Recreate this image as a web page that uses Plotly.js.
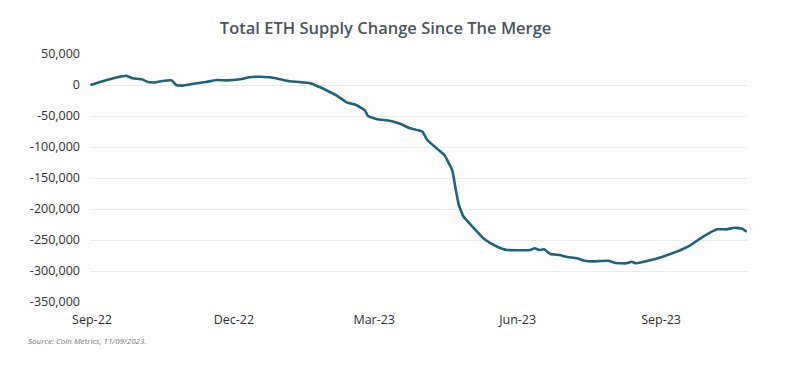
<!DOCTYPE html>
<html>
<head>
<meta charset="utf-8">
<script src="https://cdn.plot.ly/plotly-3.0.1.min.js"></script>
<style>
html,body{margin:0;padding:0;background:#fff;}
#chart{width:800px;height:371px;}
</style>
</head>
<body>
<div id="chart"></div>
<script>
// Dates of readings
var dates = [
  "2022-09-14","2022-09-27","2022-10-07","2022-10-11","2022-10-17","2022-10-21","2022-10-26","2022-10-30",
  "2022-11-05","2022-11-08","2022-11-12","2022-11-18","2022-11-27","2022-12-04","2022-12-10","2022-12-19",
  "2022-12-25","2022-12-31","2023-01-07","2023-01-13","2023-01-20","2023-01-26","2023-02-02","2023-02-06",
  "2023-02-12","2023-02-19","2023-02-25","2023-03-04","2023-03-09","2023-03-11","2023-03-17","2023-03-25",
  "2023-04-01","2023-04-07","2023-04-15","2023-04-18","2023-04-24","2023-04-29","2023-05-04","2023-05-06",
  "2023-05-08","2023-05-11","2023-05-18","2023-05-24","2023-05-28","2023-06-02","2023-06-08","2023-06-23",
  "2023-06-26","2023-06-29","2023-07-02","2023-07-06","2023-07-12","2023-07-16","2023-07-23","2023-07-28",
  "2023-08-02","2023-08-12","2023-08-17","2023-08-24","2023-08-27","2023-08-30","2023-09-08","2023-09-16",
  "2023-09-25","2023-10-04","2023-10-12","2023-10-21","2023-10-27","2023-11-01","2023-11-06","2023-11-09"
];
// Total ETH supply change since the Merge (ETH)
var supplyChange = [
  0, 9700, 15000, 10800, 9200, 4800, 4300, 6400,
  7500, 0, -1000, 1600, 4800, 8000, 7500, 9200,
  12400, 13400, 12400, 9700, 6000, 4800, 2700, -1100,
  -8000, -17000, -27500, -33000, -41000, -50000, -55300, -57500,
  -62900, -69900, -75300, -88700, -102000, -112900, -137000, -164000,
  -190800, -211300, -231100, -247300, -254300, -260800, -266100, -266100,
  -263400, -266100, -265000, -272600, -274200, -276900, -279500, -283400,
  -284400, -283400, -287100, -287600, -285000, -287600, -282800, -276900,
  -268800, -258100, -244700, -232800, -232800, -230200, -231800, -236600
];
var tickDates = ["2022-09-15","2022-12-15","2023-03-15","2023-06-15","2023-09-15"];
var tickLabels = ["Sep-22","Dec-22","Mar-23","Jun-23","Sep-23"];
var yTicks = [50000,0,-50000,-100000,-150000,-200000,-250000,-300000,-350000];
var yTickLabels = ["50,000","0","-50,000","-100,000","-150,000","-200,000","-250,000","-300,000","-350,000"];

var trace = {
  x: dates, y: supplyChange, type: "scatter", mode: "lines",
  line: {color: "#1b6479", width: 2.6, shape: "spline", smoothing: 0.35},
  hoverinfo: "skip"
};

var layout = {
  width: 800, height: 371,
  margin: {l: 90, r: 53, t: 54, b: 69},
  paper_bgcolor: "#ffffff", plot_bgcolor: "#ffffff",
  showlegend: false,
  title: {
    text: "Total ETH Supply Change Since The Merge",
    x: 0.482, xanchor: "center", y: 0.925, yanchor: "middle",
    font: {family: "Open Sans, sans-serif", size: 16.5, color: "#4d535b", weight: 600}
  },
  xaxis: {
    type: "date",
    range: ["2022-09-13 17:00", "2023-11-09 03:00"],
    tickmode: "array", tickvals: tickDates, ticktext: tickLabels,
    showgrid: false, zeroline: false, showline: false, ticks: "",
    ticklabelstandoff: 8,
    tickfont: {family: "Open Sans, sans-serif", size: 12.5, color: "#2e2e2e"}
  },
  yaxis: {
    range: [-350000, 50000],
    tickmode: "array", tickvals: yTicks, ticktext: yTickLabels,
    showgrid: true, gridcolor: "#ebebeb", gridwidth: 1,
    zeroline: false, showline: false, ticks: "",
    ticklabelstandoff: 9,
    tickfont: {family: "Open Sans, sans-serif", size: 12.5, color: "#2e2e2e"}
  },
  annotations: [{
    text: "<i>Source: Coin Metrics, 11/09/2023.</i>",
    xref: "paper", yref: "paper", x: -0.098, y: -0.155,
    xanchor: "left", yanchor: "middle", showarrow: false,
    font: {family: "Open Sans, sans-serif", size: 8, color: "#777777"}
  }]
};

Plotly.newPlot("chart", [trace], layout, {displayModeBar: false, staticPlot: true});
</script>
</body>
</html>
